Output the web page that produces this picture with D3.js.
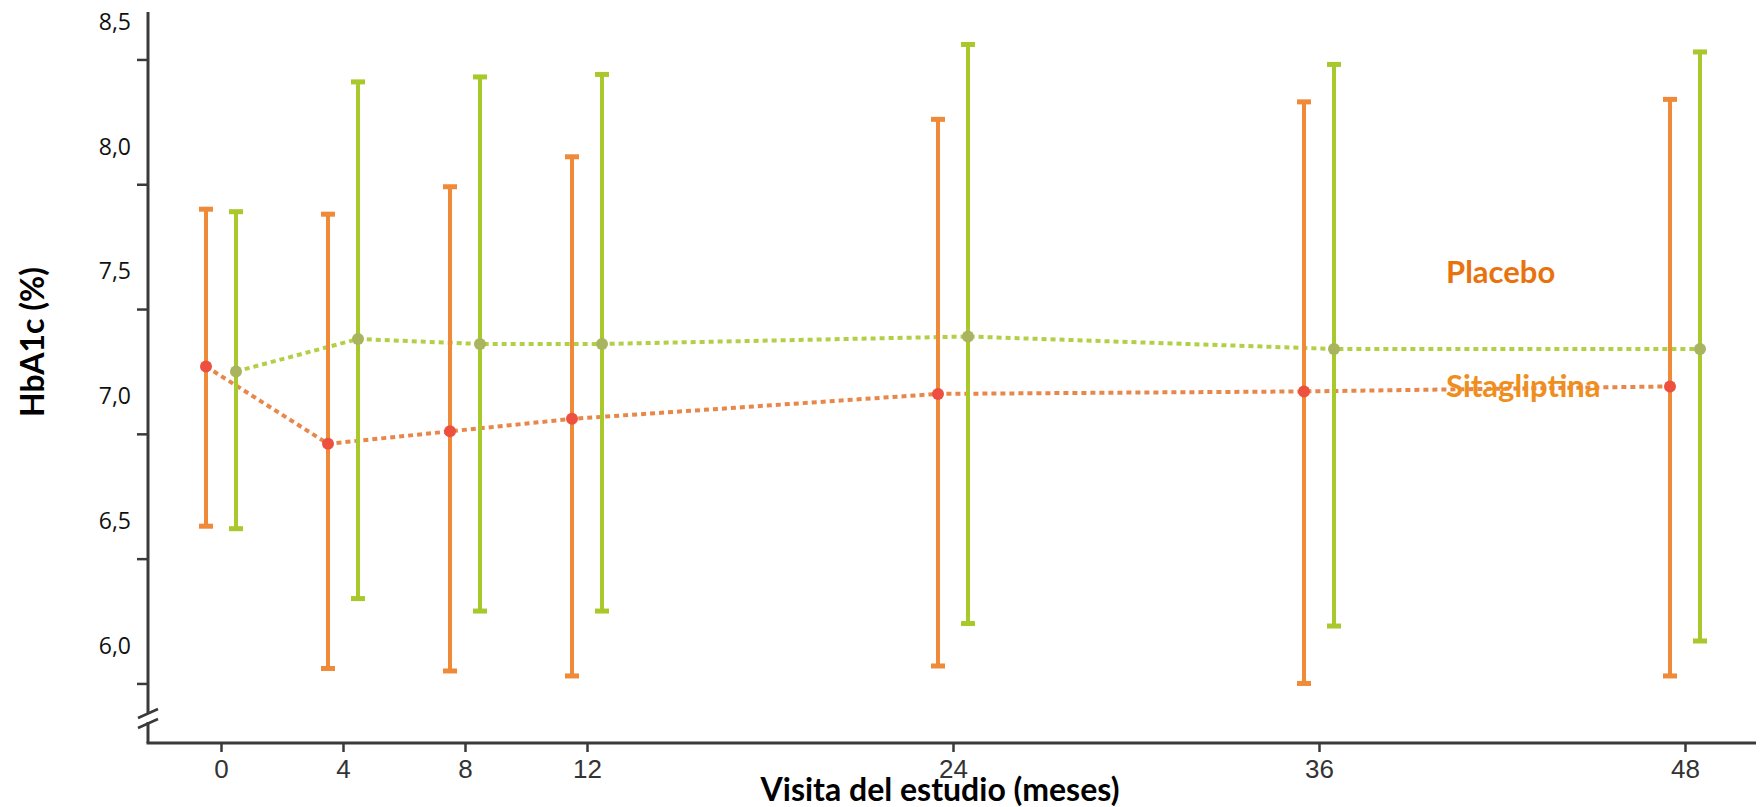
<!DOCTYPE html>
<html>
<head>
<meta charset="utf-8">
<script src="https://cdn.jsdelivr.net/npm/d3@7"></script>
<style>
	body { margin: 0; background: #fff; }
	.ylab text { font-family: "Open Sans", sans-serif; font-size: 23px; fill: #111; }
	.xlab text { font-family: "Liberation Sans", Arial, sans-serif; font-size: 26px; fill: #333; }
	.title { font-family: Lato, sans-serif; font-weight: bold; fill: #000; }
</style>
</head>
<body>
<div id="chart"></div>
<script>
// Data
var months = [0, 4, 8, 12, 24, 36, 48];

var sitaMean = [7.12, 6.81, 6.86, 6.91, 7.01, 7.02, 7.04];
var sitaLow  = [6.48, 5.91, 5.90, 5.88, 5.92, 5.85, 5.88];
var sitaHigh = [7.75, 7.73, 7.84, 7.96, 8.11, 8.18, 8.19];

var placMean = [7.10, 7.23, 7.21, 7.21, 7.24, 7.19, 7.19];
var placLow  = [6.47, 6.19, 6.14, 6.14, 6.09, 6.08, 6.02];
var placHigh = [7.74, 8.26, 8.28, 8.29, 8.41, 8.33, 8.38];

var yLabels = [6, 6.5, 7, 7.5, 8, 8.5];
var yTickMarks = [5.85, 6.35, 6.85, 7.35, 7.85, 8.35];

var size = { width: 1761, height: 807 };

var xAxis = d3.scaleLinear()
	.domain([0, 48])
	.range([221, 1685]);

var yAxis = d3.scaleLinear()
	.domain([6, 8.5])
	.range([646, 22]);

var svg = d3.select("#chart").append("svg")
	.attr("width", size.width)
	.attr("height", size.height)
	.style("background", "#fff");

var axisColor = "#3a3a3a";
var axisY = 743, axisX = 148;

// y axis line with a break near the bottom
svg.append("line")
	.attr("x1", axisX).attr("x2", axisX)
	.attr("y1", 12).attr("y2", 713)
	.attr("stroke", axisColor).attr("stroke-width", 3);
svg.append("line")
	.attr("x1", axisX).attr("x2", axisX)
	.attr("y1", 722).attr("y2", axisY)
	.attr("stroke", axisColor).attr("stroke-width", 3);
[0, 10].forEach(function(off) {
	svg.append("line")
		.attr("x1", 138).attr("y1", 718 + off)
		.attr("x2", 158).attr("y2", 709 + off)
		.attr("stroke", axisColor).attr("stroke-width", 2.5);
});

// x axis line
svg.append("line")
	.attr("x1", axisX - 1.5).attr("x2", 1756)
	.attr("y1", axisY).attr("y2", axisY)
	.attr("stroke", axisColor).attr("stroke-width", 3);

// y tick marks (sit between the labels in the original)
var yMarks = svg.append("g")
	.attr("transform", "translate(" + axisX + ",0)")
	.call(d3.axisLeft(yAxis).tickValues(yTickMarks).tickSize(11).tickFormat(""));
yMarks.select(".domain").remove();
yMarks.selectAll("line").attr("stroke", axisColor).attr("stroke-width", 2.5);

// y labels
var yLab = svg.append("g")
	.attr("class", "ylab")
	.attr("transform", "translate(" + axisX + ",0)")
	.call(d3.axisLeft(yAxis).tickValues(yLabels).tickSize(0).tickPadding(17)
		.tickFormat(function(d) { return d3.format(".1f")(d).replace(".", ","); }));
yLab.select(".domain").remove();
yLab.selectAll("text").attr("fill", "#111");

// x axis ticks and labels
var xLab = svg.append("g")
	.attr("class", "xlab")
	.attr("transform", "translate(0," + axisY + ")")
	.call(d3.axisBottom(xAxis).tickValues(months).tickSize(9).tickPadding(8));
xLab.select(".domain").remove();
xLab.selectAll("line").attr("stroke", axisColor).attr("stroke-width", 2.5);
xLab.selectAll("text").attr("fill", "#333");

// series
var series = [
	{ name: "Sitagliptina", mean: sitaMean, low: sitaLow, high: sitaHigh, dx: -15,
	  bar: "#ef8a38", line: "#e8874a", dot: "#ee5040" },
	{ name: "Placebo", mean: placMean, low: placLow, high: placHigh, dx: 15,
	  bar: "#a8c82c", line: "#b3cf45", dot: "#a8b55e" }
];

series.forEach(function(s) {
	var pts = months.map(function(m, i) {
		return { m: m, mean: s.mean[i], low: s.low[i], high: s.high[i] };
	});

	var line = d3.line()
		.x(function(d) { return xAxis(d.m) + s.dx; })
		.y(function(d) { return yAxis(d.mean); });

	svg.append("path")
		.datum(pts)
		.attr("d", line)
		.attr("fill", "none")
		.attr("stroke", s.line)
		.attr("stroke-width", 4)
		.attr("stroke-dasharray", "5,4");
});

series.forEach(function(s) {
	var pts = months.map(function(m, i) {
		return { m: m, mean: s.mean[i], low: s.low[i], high: s.high[i] };
	});
	var g = svg.append("g");

	// error bars
	g.selectAll(".bar").data(pts).enter().append("line")
		.attr("x1", function(d) { return xAxis(d.m) + s.dx; })
		.attr("x2", function(d) { return xAxis(d.m) + s.dx; })
		.attr("y1", function(d) { return yAxis(d.high); })
		.attr("y2", function(d) { return yAxis(d.low); })
		.attr("stroke", s.bar)
		.attr("stroke-width", 4);

	// caps
	["high", "low"].forEach(function(k) {
		g.selectAll(".cap-" + k).data(pts).enter().append("line")
			.attr("x1", function(d) { return xAxis(d.m) + s.dx - 7; })
			.attr("x2", function(d) { return xAxis(d.m) + s.dx + 7; })
			.attr("y1", function(d) { return yAxis(d[k]); })
			.attr("y2", function(d) { return yAxis(d[k]); })
			.attr("stroke", s.bar)
			.attr("stroke-width", 5);
	});

	// mean points
	g.selectAll("circle").data(pts).enter().append("circle")
		.attr("cx", function(d) { return xAxis(d.m) + s.dx; })
		.attr("cy", function(d) { return yAxis(d.mean); })
		.attr("r", 6)
		.attr("fill", s.dot);
});

// series labels
svg.append("text")
	.attr("class", "title")
	.attr("x", 1446).attr("y", 283)
	.style("font-size", "31px")
	.style("fill", "#e8720e")
	.text("Placebo");

svg.append("text")
	.attr("class", "title")
	.attr("x", 1446).attr("y", 397)
	.style("font-size", "31px")
	.style("fill", "#f08e1c")
	.text("Sitagliptina");

// axis titles
svg.append("text")
	.attr("class", "title")
	.attr("x", 940).attr("y", 801)
	.attr("text-anchor", "middle")
	.style("font-size", "32px")
	.text("Visita del estudio (meses)");

svg.append("text")
	.attr("class", "title")
	.attr("transform", "translate(44,342) rotate(-90)")
	.attr("text-anchor", "middle")
	.style("font-size", "32px")
	.text("HbA1c (%)");
</script>
</body>
</html>
